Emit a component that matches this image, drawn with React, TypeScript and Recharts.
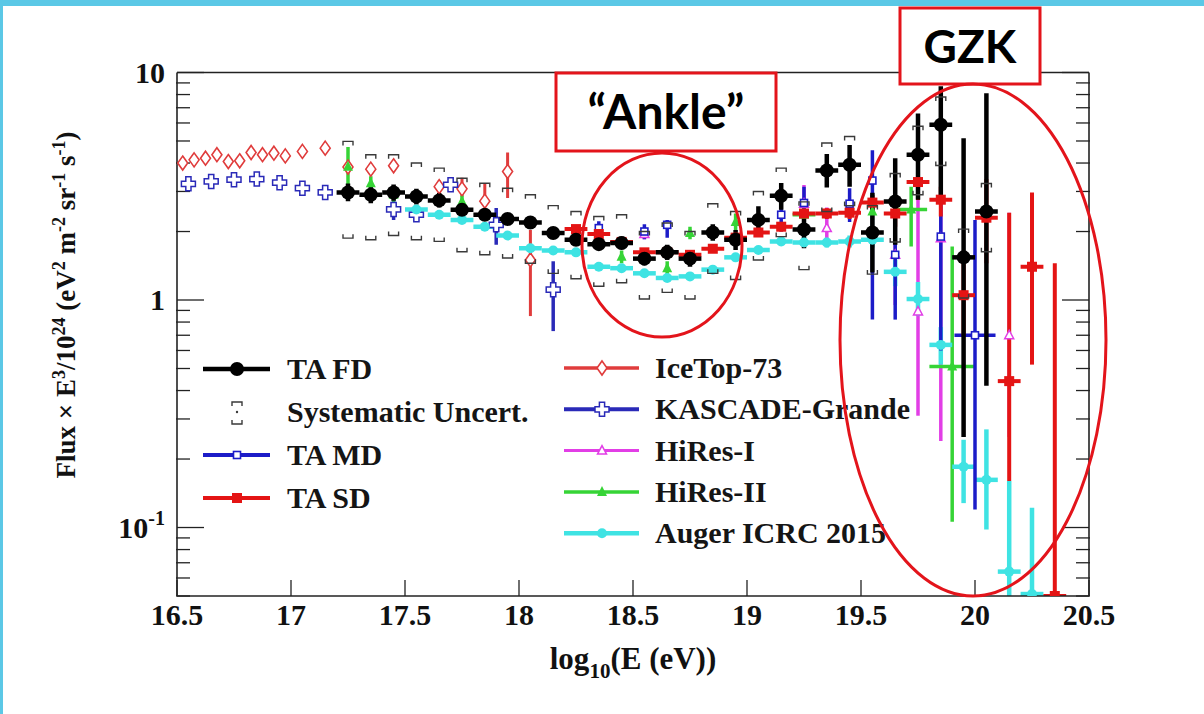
import React from 'react';
import { ComposedChart, Scatter, XAxis, YAxis, ErrorBar } from 'recharts';

const W = 1204;
const H = 714;
const SERIF = '"Liberation Serif", "Times New Roman", serif';
const SANS = 'Lato, "Open Sans", sans-serif';
const AXIS = '#222';
const BOX_RED = '#e3141b';

// axes
const xDomain = [16.5, 20.5];
const yDomain = [0.05, 10];
const xMajor = [16.5, 17, 17.5, 18, 18.5, 19, 19.5, 20, 20.5];
const xMinor = [
  16.6, 16.7, 16.8, 16.9, 17.1, 17.2, 17.3, 17.4, 17.6, 17.7, 17.8, 17.9,
  18.1, 18.2, 18.3, 18.4, 18.6, 18.7, 18.8, 18.9, 19.1, 19.2, 19.3, 19.4,
  19.6, 19.7, 19.8, 19.9, 20.1, 20.2, 20.3, 20.4,
];
const yMajor = [0.1, 1, 10];
const yMinor = [0.05, 0.06, 0.07, 0.08, 0.09, 0.2, 0.3, 0.4, 0.5, 0.6, 0.7, 0.8, 0.9, 2, 3, 4, 5, 6, 7, 8, 9];

// TA FD
const fdE = [17.25, 17.35, 17.45, 17.55, 17.65, 17.75, 17.85, 17.95, 18.05, 18.15, 18.25, 18.35, 18.45, 18.55, 18.65, 18.75, 18.85, 18.95, 19.05, 19.15, 19.25, 19.35, 19.45, 19.55, 19.65, 19.75, 19.85, 19.95, 20.05];
const fdFlux = [2.97, 2.9, 2.97, 2.85, 2.74, 2.49, 2.37, 2.27, 2.19, 1.97, 1.84, 1.76, 1.78, 1.52, 1.62, 1.52, 1.98, 1.84, 2.25, 2.87, 2.04, 3.71, 3.93, 1.98, 2.71, 4.35, 5.89, 1.54, 2.45];
const fdLo = [2.72, 2.66, 2.73, 2.63, 2.55, 2.33, 2.23, 2.14, 2.06, 1.86, 1.74, 1.66, 1.67, 1.42, 1.5, 1.4, 1.82, 1.66, 1.92, 2.49, 1.69, 3.12, 3.15, 1.32, 1.75, 2.76, 2.71, 0.25, 0.42];
const fdHi = [3.25, 3.16, 3.22, 3.08, 2.95, 2.66, 2.52, 2.41, 2.33, 2.09, 1.95, 1.87, 1.9, 1.63, 1.75, 1.65, 2.15, 2.03, 2.58, 3.27, 2.36, 4.38, 4.8, 2.96, 4.2, 6.6, 8.7, 5.14, 8.1];
const fdSysHi = [4.98, 4.35, 4.35, 4.0, 3.8, 3.43, 3.26, 3.1, 2.9, 2.6, 2.45, 2.33, 2.37, 2.0, 2.18, 2.0, 2.65, 2.45, 3.0, 3.8, 2.7, 4.9, 5.23, 2.6, 3.6, 5.8, 7.8, 2.05, 3.25];
const fdSysLo = [1.87, 1.84, 1.92, 1.84, 1.81, 1.63, 1.58, 1.53, 1.45, 1.31, 1.24, 1.15, 1.19, 1.01, 1.08, 1.01, 1.31, 1.23, 1.5, 1.9, 1.36, 2.45, 2.6, 1.3, 1.8, 2.9, 3.9, 1.02, 1.63];

// TA MD
const mdE = [18.35, 18.55, 18.65, 19.15, 19.25, 19.45, 19.55, 19.65, 19.85, 20.0];
const mdFlux = [2.07, 2.0, 2.14, 2.37, 2.67, 2.65, 3.35, 1.58, 1.9, 0.7];
const mdLo = [1.92, 1.85, 1.88, 2.0, 2.2, 2.2, 0.82, 0.82, 0.6, 0.12];
const mdHi = [2.22, 2.15, 2.25, 2.75, 3.15, 3.1, 4.55, 2.2, 3.2, 2.25];
const mdHalf = [0, 0, 0, 0, 0, 0, 0, 0, 0, 0.09];

// TA SD
const sdE = [18.25, 18.35, 18.45, 18.55, 18.65, 18.75, 18.85, 18.95, 19.05, 19.15, 19.25, 19.35, 19.45, 19.55, 19.65, 19.75, 19.85, 19.95, 20.05, 20.15, 20.25, 20.35];
const sdFlux = [2.05, 1.95, 1.8, 1.62, 1.62, 1.58, 1.68, 1.88, 1.98, 2.1, 2.4, 2.4, 2.42, 2.68, 2.4, 3.3, 2.76, 1.05, 2.3, 0.44, 1.4, 0.05];
const sdLo = [2.0, 1.9, 1.75, 1.57, 1.57, 1.53, 1.62, 1.81, 1.9, 2.0, 2.28, 2.27, 2.27, 2.48, 2.1, 2.75, 2.33, 0.7, 1.45, 0.16, 0.52, 0.03];
const sdHi = [2.1, 2.0, 1.85, 1.67, 1.67, 1.63, 1.74, 1.95, 2.06, 2.2, 2.52, 2.53, 2.57, 2.9, 2.75, 3.95, 3.15, 1.5, 3.4, 2.42, 2.97, 1.45];

// IceTop-73
const iceE = [16.525, 16.575, 16.625, 16.675, 16.725, 16.775, 16.825, 16.875, 16.925, 16.975, 17.05, 17.15, 17.25, 17.35, 17.45, 17.65, 17.75, 17.85, 17.95, 18.05];
const iceFlux = [4.0, 4.13, 4.2, 4.35, 4.06, 4.09, 4.45, 4.35, 4.42, 4.3, 4.5, 4.65, 3.84, 3.76, 3.89, 3.15, 3.08, 2.72, 3.67, 1.5];
const iceLo = [3.9, 4.03, 4.1, 4.25, 3.96, 3.99, 4.34, 4.24, 4.3, 4.18, 4.36, 4.5, 3.7, 3.6, 3.7, 2.95, 2.85, 2.55, 2.81, 0.85];
const iceHi = [4.1, 4.23, 4.3, 4.45, 4.16, 4.19, 4.56, 4.46, 4.54, 4.42, 4.64, 4.8, 3.98, 3.92, 4.08, 3.35, 3.45, 3.27, 4.45, 2.03];

// KASCADE-Grande
const kgE = [16.55, 16.65, 16.75, 16.85, 16.95, 17.05, 17.15, 17.45, 17.55, 17.7, 17.9, 18.15];
const kgFlux = [3.24, 3.32, 3.38, 3.4, 3.28, 3.1, 2.97, 2.5, 2.37, 3.21, 2.14, 1.11];
const kgLo = [3.18, 3.26, 3.32, 3.33, 3.2, 3.02, 2.88, 2.25, 2.2, 3.0, 1.75, 0.73];
const kgHi = [3.3, 3.38, 3.44, 3.47, 3.36, 3.18, 3.06, 2.75, 2.55, 3.4, 2.54, 1.48];

// HiRes-I
const h1E = [18.55, 19.25, 19.35, 19.65, 19.75, 19.85, 20.15];
const h1Flux = [1.95, 2.65, 2.07, 1.58, 0.89, 1.87, 0.7];
const h1Lo = [1.85, 2.2, 1.75, 0.95, 0.31, 0.24, 0.25];
const h1Hi = [2.05, 3.2, 2.55, 2.4, 3.15, 3.6, 2.42];

// HiRes-II
const h2E = [17.25, 17.35, 17.45, 17.75, 18.45, 18.65, 18.75, 18.95, 19.25, 19.55, 19.72, 19.9];
const h2Flux = [3.85, 3.26, 2.9, 2.71, 1.55, 1.38, 1.97, 2.2, 2.37, 2.45, 2.5, 0.51];
const h2Lo = [2.9, 3.0, 2.7, 2.55, 1.45, 1.28, 1.85, 2.0, 2.15, 1.9, 1.72, 0.106];
const h2Hi = [4.7, 3.5, 3.1, 2.88, 1.65, 1.48, 2.1, 2.4, 2.6, 2.9, 3.15, 1.72];
const h2Half = [0, 0, 0, 0, 0, 0, 0, 0, 0.05, 0, 0.07, 0.1];

// Auger ICRC 2015
const auE = [17.55, 17.65, 17.75, 17.85, 17.95, 18.05, 18.15, 18.25, 18.35, 18.45, 18.55, 18.65, 18.75, 18.85, 18.95, 19.05, 19.15, 19.25, 19.35, 19.45, 19.55, 19.65, 19.75, 19.85, 19.95, 20.05, 20.15, 20.25];
const auFlux = [2.5, 2.37, 2.25, 2.1, 1.92, 1.69, 1.65, 1.62, 1.4, 1.38, 1.31, 1.25, 1.27, 1.36, 1.54, 1.66, 1.81, 1.79, 1.79, 1.81, 1.84, 1.33, 1.01, 0.635, 0.185, 0.162, 0.064, 0.051];
const auLo = [2.44, 2.31, 2.2, 2.05, 1.88, 1.65, 1.61, 1.58, 1.37, 1.35, 1.28, 1.22, 1.24, 1.32, 1.49, 1.6, 1.74, 1.71, 1.7, 1.7, 1.7, 1.15, 0.85, 0.52, 0.128, 0.098, 0.04, 0.03];
const auHi = [2.56, 2.43, 2.3, 2.15, 1.96, 1.73, 1.69, 1.66, 1.43, 1.41, 1.34, 1.28, 1.3, 1.4, 1.59, 1.72, 1.88, 1.87, 1.88, 1.92, 1.98, 1.5, 1.2, 0.76, 0.243, 0.27, 0.16, 0.122];

const BIN_HALF = 0.05;

const C = {
  fd: '#000000',
  md: '#1c1cc8',
  sd: '#e41414',
  ice: '#e03c3c',
  kg: '#2a2ab8',
  h1: '#e23ee6',
  h2: '#36d436',
  au: '#3fe3e3',
  sys: '#3a3a3a',
};

// plot box inside the chart svg, used to clip the data layers
const PLOT = { x: 177, y: 72.5, w: 912, h: 523.5 };

function points(e: number[], f: number[], lo: number[], hi: number[], half: number | number[] = 0) {
  return e.map((x, i) => ({
    x,
    y: f[i],
    ex: Array.isArray(half) ? half[i] : half,
    ey: [f[i] - lo[i], hi[i] - f[i]],
  }));
}

const fdData = points(fdE, fdFlux, fdLo, fdHi, BIN_HALF);
const mdData = points(mdE, mdFlux, mdLo, mdHi, mdHalf);
const sdData = points(sdE, sdFlux, sdLo, sdHi, BIN_HALF);
const iceData = points(iceE, iceFlux, iceLo, iceHi);
const kgData = points(kgE, kgFlux, kgLo, kgHi);
const h1Data = points(h1E, h1Flux, h1Lo, h1Hi);
const h2Data = points(h2E, h2Flux, h2Lo, h2Hi, h2Half);
const auData = points(auE, auFlux, auLo, auHi, BIN_HALF);
const sysHiData = fdE.map((x, i) => ({ x, y: fdSysHi[i] }));
const sysLoData = fdE.map((x, i) => ({ x, y: fdSysLo[i] }));

// marker glyphs, shared by the plot and the legend
const mk: Record<string, (cx: number, cy: number) => React.ReactElement> = {
  fd: (cx, cy) => <circle cx={cx} cy={cy} r={7} fill={C.fd} />,
  md: (cx, cy) => (
    <rect x={cx - 3.5} y={cy - 3.5} width={7} height={7} fill="#fff" stroke={C.md} strokeWidth={1.6} />
  ),
  sd: (cx, cy) => <rect x={cx - 5} y={cy - 5} width={10} height={10} fill={C.sd} />,
  ice: (cx, cy) => (
    <path
      d={`M${cx},${cy - 7} L${cx + 5},${cy} L${cx},${cy + 7} L${cx - 5},${cy} Z`}
      fill="#fff"
      stroke={C.ice}
      strokeWidth={1.6}
    />
  ),
  kg: (cx, cy) => {
    const a = 2.6;
    const l = 7;
    return (
      <path
        d={`M${cx - a},${cy - l} H${cx + a} V${cy - a} H${cx + l} V${cy + a} H${cx + a} V${cy + l} H${cx - a} V${cy + a} H${cx - l} V${cy - a} H${cx - a} Z`}
        fill="#fff"
        stroke={C.kg}
        strokeWidth={1.5}
      />
    );
  },
  h1: (cx, cy) => (
    <path d={`M${cx},${cy - 5} L${cx + 4.5},${cy + 3.5} L${cx - 4.5},${cy + 3.5} Z`} fill="#fff" stroke={C.h1} strokeWidth={1.5} />
  ),
  h2: (cx, cy) => <path d={`M${cx},${cy - 6} L${cx + 5},${cy + 4} L${cx - 5},${cy + 4} Z`} fill={C.h2} />,
  au: (cx, cy) => <circle cx={cx} cy={cy} r={5} fill={C.au} />,
  sysHi: (cx, cy) => (
    <path d={`M${cx - 5},${cy + 4} V${cy} H${cx + 5} V${cy + 4}`} fill="none" stroke={C.sys} strokeWidth={1.4} />
  ),
  sysLo: (cx, cy) => (
    <path d={`M${cx - 5},${cy - 4} V${cy} H${cx + 5} V${cy - 4}`} fill="none" stroke={C.sys} strokeWidth={1.4} />
  ),
};

const leftLegend = [
  { key: 'fd', label: 'TA FD' },
  { key: 'sys', label: 'Systematic Uncert.' },
  { key: 'md', label: 'TA MD' },
  { key: 'sd', label: 'TA SD' },
];
const rightLegend = [
  { key: 'ice', label: 'IceTop-73' },
  { key: 'kg', label: 'KASCADE-Grande' },
  { key: 'h1', label: 'HiRes-I' },
  { key: 'h2', label: 'HiRes-II' },
  { key: 'au', label: 'Auger ICRC 2015' },
];
const legendLineW: Record<string, number> = { fd: 4.5, md: 4, sd: 4, ice: 3.5, kg: 4, h1: 3, h2: 3.5, au: 4.5 };

const blankTick = () => <g />;

function XTick(props: any) {
  const { x, y, payload } = props;
  return (
    <text x={x} y={y + 29} textAnchor="middle" fontFamily={SERIF} fontWeight={700} fontSize={30} fill="#111">
      {String(payload.value)}
    </text>
  );
}

function YTick(props: any) {
  const { x, y, payload } = props;
  const v = payload.value;
  const common = { textAnchor: 'end' as const, fontFamily: SERIF, fontWeight: 700, fill: '#111' };
  if (v < 1) {
    return (
      <text x={x - 12} y={y + 10} {...common} fontSize={30}>
        10
        <tspan dy={-13} fontSize={20}>
          -1
        </tspan>
      </text>
    );
  }
  return (
    <text x={x - 12} y={y + 10} {...common} fontSize={30}>
      {String(v)}
    </text>
  );
}

function series(id: string, data: any[], color: string, barW: number, withX: boolean) {
  return (
    <Scatter
      key={id}
      name={id}
      xAxisId="x"
      yAxisId="y"
      data={data}
      isAnimationActive={false}
      shape={(p: any) => mk[id](p.cx, p.cy)}
    >
      {withX && (
        <ErrorBar dataKey="ex" direction="x" width={0} stroke={color} strokeWidth={barW} isAnimationActive={false} />
      )}
      <ErrorBar dataKey="ey" direction="y" width={0} stroke={color} strokeWidth={barW} isAnimationActive={false} />
    </Scatter>
  );
}

function Legends() {
  const text = { fontFamily: SERIF, fontWeight: 700, fontSize: 30, fill: '#151515' };
  return (
    <g>
      {leftLegend.map((it, i) => {
        const y = 369 + i * 43;
        return (
          <g key={it.key}>
            {it.key === 'sys' ? (
              <g>
                {mk.sysHi(237, y - 10)}
                {mk.sysLo(237, y + 12)}
                <circle cx={237} cy={y} r={1.2} fill={C.sys} />
              </g>
            ) : (
              <g>
                <line x1={203} x2={270} y1={y} y2={y} stroke={(C as any)[it.key]} strokeWidth={legendLineW[it.key]} />
                {mk[it.key](237, y)}
              </g>
            )}
            <text x={287} y={y + 10} {...text}>
              {it.label}
            </text>
          </g>
        );
      })}
      {rightLegend.map((it, i) => {
        const y = 368 + i * 41.3;
        return (
          <g key={it.key}>
            <line x1={564} x2={639} y1={y} y2={y} stroke={(C as any)[it.key]} strokeWidth={legendLineW[it.key]} />
            {mk[it.key](602, y)}
            <text x={655} y={y + 10} {...text}>
              {it.label}
            </text>
          </g>
        );
      })}
    </g>
  );
}

// error bars are drawn in their own layer, so clip them to the plot box here
const clipCss = `.recharts-errorBars, .recharts-errorBar, .recharts-scatter, .recharts-scatter-symbol { clip-path: url(#plotClip); }`;

export default function App() {
  const axisLine = { stroke: AXIS, strokeWidth: 1.6 };
  const tickLine = { stroke: AXIS, strokeWidth: 1.3 };
  // each axis band is 1px so the plot box sits at x 177..1089, y 72.5..596
  return (
    <div style={{ position: 'absolute', left: 0, top: 0, width: W, height: H, background: '#fff', overflow: 'hidden' }}>
      <style>{clipCss}</style>
      <svg width={0} height={0} style={{ position: 'absolute' }}>
        <defs>
          <clipPath id="plotClip" clipPathUnits="userSpaceOnUse">
            <rect x={PLOT.x} y={PLOT.y} width={PLOT.w} height={PLOT.h} />
          </clipPath>
        </defs>
      </svg>
      <ComposedChart width={W} height={H} margin={{ top: 70.5, right: 113, bottom: 116, left: 175 }}>
        <XAxis xAxisId="x" type="number" dataKey="x" domain={xDomain} allowDataOverflow ticks={xMajor} interval={0}
          height={1} tickSize={-16} tickMargin={16} tick={<XTick />} axisLine={axisLine} tickLine={tickLine} />
        <XAxis xAxisId="xm" type="number" domain={xDomain} allowDataOverflow ticks={xMinor} interval={0}
          height={1} tickSize={-9} tick={blankTick} axisLine={false} tickLine={tickLine} />
        <XAxis xAxisId="xt" orientation="top" type="number" domain={xDomain} allowDataOverflow ticks={xMajor} interval={0}
          height={1} tickSize={-16} tick={blankTick} axisLine={axisLine} tickLine={tickLine} />
        <XAxis xAxisId="xtm" orientation="top" type="number" domain={xDomain} allowDataOverflow ticks={xMinor} interval={0}
          height={1} tickSize={-8} tick={blankTick} axisLine={false} tickLine={tickLine} />
        <YAxis yAxisId="y" type="number" dataKey="y" scale="log" domain={yDomain} allowDataOverflow ticks={yMajor} interval={0}
          width={1} tickSize={-27} tickMargin={27} tick={<YTick />} axisLine={axisLine} tickLine={tickLine} />
        <YAxis yAxisId="ym" type="number" scale="log" domain={yDomain} allowDataOverflow ticks={yMinor} interval={0}
          width={1} tickSize={-14} tick={blankTick} axisLine={false} tickLine={tickLine} />
        <YAxis yAxisId="yr" orientation="right" type="number" scale="log" domain={yDomain} allowDataOverflow ticks={yMajor} interval={0}
          width={1} tickSize={-27} tick={blankTick} axisLine={axisLine} tickLine={tickLine} />
        <YAxis yAxisId="yrm" orientation="right" type="number" scale="log" domain={yDomain} allowDataOverflow ticks={yMinor} interval={0}
          width={1} tickSize={-14} tick={blankTick} axisLine={false} tickLine={tickLine} />

        {series('ice', iceData, C.ice, 3, false)}
        {series('kg', kgData, C.kg, 3.5, false)}
        {series('h1', h1Data, C.h1, 3.5, false)}
        {series('h2', h2Data, C.h2, 3.5, true)}
        {series('au', auData, C.au, 4.5, true)}
        {series('md', mdData, C.md, 3.5, true)}
        {series('sd', sdData, C.sd, 4, true)}
        {series('fd', fdData, C.fd, 4.5, true)}
        <Scatter xAxisId="x" yAxisId="y" data={sysHiData} isAnimationActive={false} shape={(p: any) => mk.sysHi(p.cx, p.cy)} />
        <Scatter xAxisId="x" yAxisId="y" data={sysLoData} isAnimationActive={false} shape={(p: any) => mk.sysLo(p.cx, p.cy)} />
      </ComposedChart>

      <svg width={W} height={H} style={{ position: 'absolute', left: 0, top: 0, pointerEvents: 'none' }}>
        {/* slide frame */}
        <rect x={0} y={0} width={W} height={6} fill="#5bc8e6" />
        <rect x={0} y={0} width={3} height={H} fill="#5bc8e6" />

        {/* axis titles */}
        <text x={633} y={669} textAnchor="middle" fontFamily={SERIF} fontWeight={700} fontSize={31} fill="#111">
          log
          <tspan dy={9} fontSize={21}>10</tspan>
          <tspan dy={-9}>(E (eV))</tspan>
        </text>
        <text transform="translate(75,305) rotate(-90)" textAnchor="middle" fontFamily={SERIF} fontWeight={700} fontSize={27} fill="#111">
          Flux × E<tspan dy={-10} fontSize={18}>3</tspan>
          <tspan dy={10}>/10</tspan>
          <tspan dy={-10} fontSize={18}>24</tspan>
          <tspan dy={10}> (eV</tspan>
          <tspan dy={-10} fontSize={18}>2</tspan>
          <tspan dy={10}> m</tspan>
          <tspan dy={-10} fontSize={18}>-2</tspan>
          <tspan dy={10}> sr</tspan>
          <tspan dy={-10} fontSize={18}>-1</tspan>
          <tspan dy={10}> s</tspan>
          <tspan dy={-10} fontSize={18}>-1</tspan>
          <tspan dy={10}>)</tspan>
        </text>

        <Legends />

        {/* annotations */}
        <rect x={556} y={73} width={220} height={78} fill="#fff" stroke={BOX_RED} strokeWidth={3} />
        <text x={666} y={129} textAnchor="middle" fontFamily={SANS} fontWeight={700} fontSize={48} fill="#000">
          “Ankle”
        </text>
        <ellipse cx={662} cy={245} rx={80} ry={92} fill="none" stroke={BOX_RED} strokeWidth={3} />

        <rect x={900} y={8} width={140} height={76} fill="#fff" stroke={BOX_RED} strokeWidth={3} />
        <text x={970} y={63} textAnchor="middle" fontFamily={SANS} fontWeight={700} fontSize={46} fill="#000">
          GZK
        </text>
        <ellipse cx={973} cy={340} rx={133} ry={256} fill="none" stroke={BOX_RED} strokeWidth={3} />
      </svg>
    </div>
  );
}
